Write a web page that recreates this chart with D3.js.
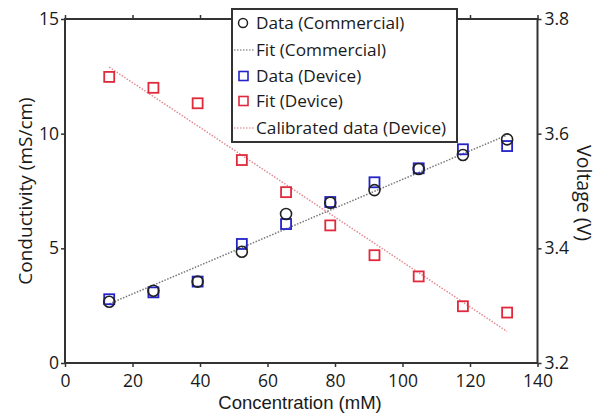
<!DOCTYPE html>
<html>
<head>
<meta charset="utf-8">
<script src="https://cdn.jsdelivr.net/npm/d3@7"></script>
<style>
  body { margin: 0; background: #fff; }
  text { fill: #1a1a1a; }
</style>
</head>
<body>
<div id="chart"></div>
<script>
// data
var concentration = [13.1, 26.2, 39.3, 52.4, 65.5, 78.6, 91.7, 104.8, 117.9, 131];
var condCommercial = [2.67, 3.15, 3.55, 4.85, 6.50, 6.99, 7.54, 8.46, 9.07, 9.75];
var condDevice = [2.78, 3.08, 3.55, 5.19, 6.06, 7.02, 7.88, 8.49, 9.32, 9.46];
var voltDevice = [3.699, 3.680, 3.653, 3.554, 3.498, 3.440, 3.388, 3.351, 3.299, 3.288];
// fit line end points
var fitX = [13.1, 131];
var fitCommercial = [2.58, 9.94];
var fitDevice = [3.716, 3.255];

var xTicks = [0, 20, 40, 60, 80, 100, 120, 140];
var yTicks = [0, 5, 10, 15];
var y2Ticks = [3.2, 3.4, 3.6, 3.8];
var legendLabels = ['Data (Commercial)', 'Fit (Commercial)', 'Data (Device)', 'Fit (Device)', 'Calibrated data (Device)'];

const width = 602;
const height = 414;
const plotLeft = 65, plotRight = 537.5, plotTop = 19, plotBottom = 363;
const red = '#e02a3c', blue = '#2323c8', dark = '#333';
const font = '"Open Sans", sans-serif';

var svg = d3.select('#chart').append('svg')
    .attr('width', width)
    .attr('height', height);

var x = d3.scaleLinear().domain([0, 140]).range([plotLeft, plotRight]);
var y = d3.scaleLinear().domain([0, 15]).range([plotBottom, plotTop]);
var y2 = d3.scaleLinear().domain([3.2, 3.8]).range([plotBottom, plotTop]);

function styleAxis(g) {
    g.select('.domain').remove();
    g.selectAll('.tick line').attr('stroke', dark).attr('stroke-width', 1.5);
    g.selectAll('.tick text')
        .style('font-family', font)
        .style('font-size', '17.5px')
        .attr('fill', '#1a1a1a');
}

// axes
svg.append('g')
    .attr('transform', `translate(0,${plotBottom})`)
    .call(d3.axisBottom(x).tickValues(xTicks).tickSize(4).tickPadding(8))
    .call(styleAxis);
svg.append('g')
    .attr('transform', `translate(0,${plotTop})`)
    .call(d3.axisTop(x).tickValues(xTicks).tickSize(4).tickFormat(''))
    .call(styleAxis);
svg.append('g')
    .attr('transform', `translate(${plotLeft},0)`)
    .call(d3.axisLeft(y).tickValues(yTicks).tickSize(4).tickPadding(2))
    .call(styleAxis);
svg.append('g')
    .attr('transform', `translate(${plotRight},0)`)
    .call(d3.axisRight(y2).tickValues(y2Ticks).tickSize(4).tickPadding(3).tickFormat(d3.format('.1f')))
    .call(styleAxis);

// frame
svg.append('rect')
    .attr('x', plotLeft).attr('y', plotTop)
    .attr('width', plotRight - plotLeft).attr('height', plotBottom - plotTop)
    .attr('fill', 'none')
    .attr('stroke', dark)
    .attr('stroke-width', 2);

// titles
svg.append('text')
    .text('Concentration (mM)')
    .attr('x', 300).attr('y', 409)
    .attr('text-anchor', 'middle')
    .style('font-family', 'Liberation Sans, Arial, sans-serif')
    .style('font-size', '18.5px');
svg.append('text')
    .text('Conductivity (mS/cm)')
    .attr('transform', 'translate(32,191) rotate(-90)')
    .attr('text-anchor', 'middle')
    .style('font-family', font)
    .style('font-size', '19px');
svg.append('text')
    .text('Voltage (V)')
    .attr('transform', 'translate(577,193) rotate(90)')
    .attr('text-anchor', 'middle')
    .style('font-family', font)
    .style('font-size', '19.5px');

// fit lines
var fitC = fitX.map((d, i) => [d, fitCommercial[i]]);
var fitD = fitX.map((d, i) => [d, fitDevice[i]]);

svg.append('path')
    .datum(fitD)
    .attr('d', d3.line().x(d => x(d[0])).y(d => y2(d[1])))
    .attr('fill', 'none')
    .attr('stroke', '#e38a94')
    .attr('stroke-width', 1.5)
    .attr('stroke-dasharray', '1.5,1.5');

svg.append('path')
    .datum(fitC)
    .attr('d', d3.line().x(d => x(d[0])).y(d => y(d[1])))
    .attr('fill', 'none')
    .attr('stroke', '#777')
    .attr('stroke-width', 1.5)
    .attr('stroke-dasharray', '1.5,1.5');

// device voltage squares
var sq = 10;
svg.selectAll('.volt')
    .data(concentration)
    .enter()
    .append('rect')
        .attr('class', 'volt')
        .attr('x', (d, i) => x(d) - sq / 2)
        .attr('y', (d, i) => y2(voltDevice[i]) - sq / 2)
        .attr('width', sq).attr('height', sq)
        .attr('fill', 'none')
        .attr('stroke', red)
        .attr('stroke-width', 1.8);

// device conductivity squares
svg.selectAll('.dev')
    .data(concentration)
    .enter()
    .append('rect')
        .attr('class', 'dev')
        .attr('x', (d, i) => x(d) - sq / 2)
        .attr('y', (d, i) => y(condDevice[i]) - sq / 2)
        .attr('width', sq).attr('height', sq)
        .attr('fill', 'none')
        .attr('stroke', blue)
        .attr('stroke-width', 1.8);

// commercial circles
svg.selectAll('.com')
    .data(concentration)
    .enter()
    .append('circle')
        .attr('class', 'com')
        .attr('cx', d => x(d))
        .attr('cy', (d, i) => y(condCommercial[i]))
        .attr('r', 5.5)
        .attr('fill', 'none')
        .attr('stroke', '#222')
        .attr('stroke-width', 1.6);

// legend
var lg = svg.append('g').attr('transform', 'translate(232,9)');
lg.append('rect')
    .attr('width', 225).attr('height', 133)
    .attr('fill', '#fff')
    .attr('stroke', dark)
    .attr('stroke-width', 2);

var rowY = [14, 41, 67, 92, 119];
legendLabels.forEach(function (label, i) {
    var cy = rowY[i];
    if (i == 0) {
        lg.append('circle').attr('cx', 11).attr('cy', cy).attr('r', 4.5)
            .attr('fill', 'none').attr('stroke', '#222').attr('stroke-width', 1.5);
    } else if (i == 1 || i == 4) {
        lg.append('line').attr('x1', 2).attr('x2', 23).attr('y1', cy).attr('y2', cy)
            .attr('stroke', i == 1 ? '#999' : '#e8a0a8')
            .attr('stroke-width', 1.5)
            .attr('stroke-dasharray', '1.5,1.5');
    } else {
        lg.append('rect').attr('x', 7).attr('y', cy - 4.5).attr('width', 9).attr('height', 9)
            .attr('fill', 'none').attr('stroke', i == 2 ? blue : red).attr('stroke-width', 1.6);
    }
    lg.append('text')
        .text(label)
        .attr('x', 24).attr('y', cy + 6)
        .style('font-family', font)
        .style('font-size', '17.2px');
});
</script>
</body>
</html>
